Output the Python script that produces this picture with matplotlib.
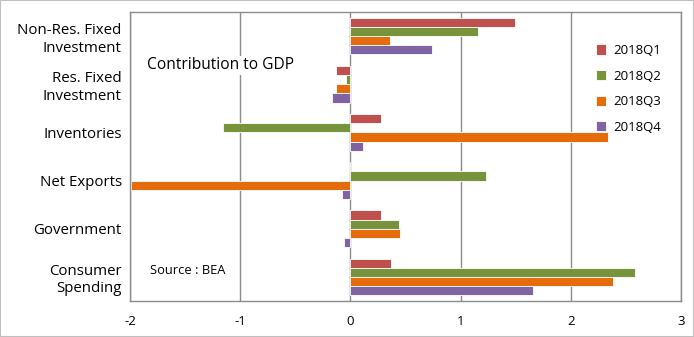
import numpy as np
import matplotlib.pyplot as plt
from matplotlib.patches import Rectangle

plt.rcParams['font.family'] = ['Open Sans', 'DejaVu Sans']

categories = ["Non-Res. Fixed\nInvestment", "Res. Fixed\nInvestment", "Inventories",
              "Net Exports", "Government", "Consumer\nSpending"]
q1 = [1.49, -0.13, 0.28, -0.01, 0.28, 0.37]
q2 = [1.16, -0.04, -1.16, 1.23, 0.44, 2.58]
q3 = [0.36, -0.13, 2.34, -1.99, 0.45, 2.38]
q4 = [0.74, -0.17, 0.11, -0.08, -0.06, 1.66]
series = [("2018Q1", q1, "#C0504D"), ("2018Q2", q2, "#77933C"),
          ("2018Q3", q3, "#E46C0A"), ("2018Q4", q4, "#8064A2")]

fig = plt.figure(figsize=(6.94, 3.37), dpi=100)
ax = fig.add_axes([0.1873, 0.1068, 0.7940, 0.8576])

n = len(categories)
ypos = np.arange(n)[::-1]
h = 0.19
for i, (name, vals, col) in enumerate(series):
    off = (1.5 - i) * h
    ax.barh(ypos + off, vals, height=h, color=col, edgecolor="white",
            linewidth=0.6, label=name)

ax.set_xlim(-2, 3)
ax.set_ylim(-0.5, n - 0.5)
ax.set_yticks(ypos)
ax.set_yticklabels(categories, fontsize=10.8, linespacing=1.22)
ax.set_xticks([-2, -1, 0, 1, 2, 3])
ax.set_xticklabels(["-2", "-1", "0", "1", "2", "3"], fontsize=9.5)
ax.tick_params(length=0, pad=6)
ax.tick_params(axis="x", pad=10)
ax.xaxis.grid(True, color="#8c8c8c", linewidth=1)
ax.set_axisbelow(True)
for s in ax.spines.values():
    s.set_color("#8c8c8c")
    s.set_linewidth(1)

ax.text(0.03, 0.815, "Contribution to GDP", transform=ax.transAxes,
        fontsize=11.2, va="center", ha="left",
        bbox=dict(facecolor="white", edgecolor="none", pad=1))
ax.text(0.036, 0.105, "Source : BEA", transform=ax.transAxes,
        fontsize=9.3, va="center", ha="left")

ax.legend(loc="upper right", bbox_to_anchor=(0.985, 0.93), frameon=False,
          fontsize=9.5, handlelength=0.8, handleheight=0.8,
          labelspacing=0.95, handletextpad=0.5)

fig.patches.append(Rectangle((0, 0), 1, 1, transform=fig.transFigure,
                             fill=False, edgecolor="#bfbfbf", linewidth=1.5))

fig.savefig("out.png", dpi=100)
